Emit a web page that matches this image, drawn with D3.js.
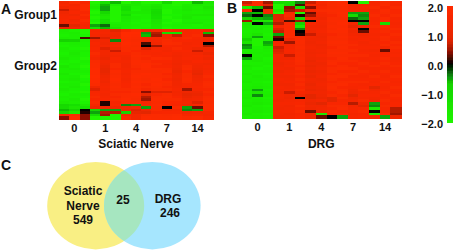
<!DOCTYPE html>
<html>
<head>
<meta charset="utf-8">
<script src="https://cdn.jsdelivr.net/npm/d3@7"></script>
<style>
  html, body { margin: 0; padding: 0; background: #fff; }
  text { font-family: "Liberation Sans", Arial, sans-serif; font-weight: bold; fill: #111; }
</style>
</head>
<body>
<svg id="chart"></svg>
<script>
const days = ["0", "1", "4", "7", "14"];
const reps = [0, 1, 2];
const legendTicks = [2, 1, 0, -1, -2];
const vennCounts = [549, 25, 246];

// log ratio per gene (rows) and sample (columns)
const sciatic = [
  [1.4,1.8,1.6,-2,-1.2,-.6,-2,-1.5,-2,-2,-.9,-2,-2,-.6,-1.5],
  [1.6,1.4,1.8,-1.8,-.6,-1.8,-1.4,-1.6,-1.8,-1.5,-1.9,-2,-1.7,-1.6,-1.7],
  [1.3,1.6,1.8,-1.6,-.5,-2,-1.2,-1.8,-1.6,-1.3,-1.9,-1.9,-1.6,-1.8,-1.4],
  [.7,1.4,1.8,-1.9,-.5,-2,-1.1,-1.9,-1.5,-1.1,-2,-1.8,-1.5,-1.7,-1.6],
  [1.2,1.6,1.6,-2,-.9,-2,-1.4,-1.6,-1.6,-1,-2,-1.8,-1.7,-1.8,-1.7],
  [1.4,1.3,1.8,-1.8,-1.3,-2,-1.1,-1.9,-1.8,-1.1,-1.9,-1.9,-1.6,-1.5,-1.5],
  [1.5,1.6,1.6,-2,-1.5,-2,-1.5,-1.7,-1.8,-1.2,-2,-1.8,-1.5,-1.8,-1.8],
  [1.6,1.3,1.8,-1.9,-1.2,-2,-1.6,-1.8,-1.9,-1.3,-1.9,-2,-1.7,-1.7,-1.7],
  [1.5,1.5,1.6,-2,-1,-1.8,-1.7,-1.9,-1.8,-1.4,-2,-1.9,-1.6,-1.5,-1.8],
  [.3,.9,1.4,-.5,-.3,-1.6,-1.7,-1.8,-1.9,-1.5,-1.9,-1.8,-1.8,-1.9,-1.7],
  [1,1.2,1.5,-1.2,-.6,-1.3,-1.8,-1.9,-1.8,-1.6,-2,-1.9,-1.9,-1.8,-1.8],
  [-1.7,-1.9,-2,1.5,1.4,.9,1.6,1.8,1.2,1.5,1.7,1.6,1.5,1.6,1.2],
  [-1.8,-1.7,-2,1.6,1.5,1.3,2,2,-.5,.6,-1,-1.2,1.5,1.6,-.6],
  [-1.9,-1.8,-1.9,1.5,1.3,1.2,2,1.9,-.6,.5,1.4,.7,1.6,1.7,.4],
  [-1.7,-1.8,.2,.5,.8,1.4,1.9,1.8,1.5,1.6,1.5,1.6,1.7,1.6,1.3],
  [-.7,-.8,-1.8,1.4,1.3,-.4,1.8,1.7,1.4,1.5,1.7,1.6,1.6,1.5,1.2],
  [-1.8,-1.7,-1.9,1.6,1.2,1.4,1.9,1.8,.2,1.3,1.8,1.7,1.4,1.5,0],
  [-1.9,-1.8,-1.9,1.5,1.4,1.6,1.8,1.7,0,.5,1.6,1.5,1.5,1.6,.6],
  [-1.7,-1.9,-2,1.6,.8,1.2,1.7,1.8,.8,1.4,1.5,1.7,1.5,1.2,1.2],
  [-1.8,-1.7,-1.8,1.5,1.3,.7,1.7,1.6,1.5,1.6,1.4,1.6,1.6,.7,1.4],
  [-1.9,-1.6,-1.9,1.7,1.3,1.5,1.6,1.7,1.6,1.5,1.6,1.4,1.5,1.4,1.1],
  [-1.8,-1.7,-1.9,1.6,1.2,1.4,1.4,1.8,1.7,1.6,1.5,1.3,1.5,1.6,1.4],
  [-1.6,-1.8,-2,1.4,1.1,1.6,1.3,1.7,1.6,1.8,1.7,1.4,1.6,1.5,1.2],
  [-1.8,-1.9,-1.8,1.7,1.3,1.5,1.4,1.8,1.7,1.6,1.6,1.3,1.4,1.6,1.5],
  [-1.9,-1.7,-1.9,1.8,1.2,1.7,1.3,1.8,1.9,1.7,1.5,1.2,1.5,1.4,1.3],
  [-1.5,-1.8,-2,1.8,1.1,1.7,1.3,1.7,1.9,1.6,1.6,1.3,1.7,1.3,1.5],
  [-1.7,-1.6,-1.9,1.9,1,1.6,1.4,1.6,1.8,1.8,1.7,1.2,1.8,1.2,1.4],
  [-1.8,-1.8,-1.8,1.9,1,1.8,1.5,1.7,1.7,1.7,1.8,1.1,1.6,1.1,1.5],
  [-1.6,-1.9,-1.9,1.9,1.1,1.7,1.4,1.8,1.9,1.8,1.6,1.2,1.7,1,1.6],
  [-1.8,-1.7,-2,2,1.2,1.8,1.5,1.9,1.8,1.8,1.7,1.3,1.7,1.2,1.7],
  [-1.7,-1.6,-1.9,1.9,1.3,1.9,1.4,1.8,1.7,1.9,1.6,1.2,1.8,1.3,1.6],
  [-1.9,-1.8,-1.8,1.9,1.2,1.8,1.5,1.9,1.8,1.8,1.8,1.3,1.7,1.4,1.7],
  [-1.7,-1.7,-2,1.8,1.4,1.7,1.6,1.8,1.6,1.9,1.7,1.3,1.5,1.5,1.8],
  [-1.8,-1.6,-1.9,1.2,1.5,1.8,1.6,1.9,1.7,1.8,1.6,1.4,1.4,1.6,1.7],
  [-1.6,-1.8,-1.9,.8,1.4,1.7,1.7,1.8,1.5,1.7,1.7,1.5,.5,1.5,1.6],
  [-1.8,-1.9,-2,1.5,1.5,1.6,1.6,1.7,.4,.8,.8,1.3,1.2,1.2,1.7],
  [-1.9,-1.7,-1.8,1.6,1.4,1.7,1.8,1.9,1,1.6,1.7,1.4,1,1.1,1.6],
  [-1.7,-1.8,-1.9,1.7,1.5,1.6,1.8,1.8,.6,1.7,1.8,1.6,1.1,1.3,1.7],
  [-1.8,-1.6,-2,1.6,1.6,1.7,1.9,1.7,.5,1.8,1.7,1.7,1.3,1.4,1.8],
  [-1.6,-1.7,-1.9,1.7,.1,1.5,1.8,1.8,1.5,1.7,1.6,1.6,1.4,.8,1.7],
  [-.9,-1.2,-1.5,1.5,.1,1.6,-.4,-.5,1.6,1.8,1.5,1.5,1.2,1.5,1.8],
  [-1,-1.4,-1.2,1.1,1.3,1.2,1.3,1.4,-.5,1.7,0,1.7,-.5,.3,1.8],
  [-.6,-.7,0,-.7,-.5,-.5,1.1,.8,1.2,1.7,1.3,1.5,-.4,-.5,1.7],
  [-.8,-1.3,.1,-.5,.6,.6,-.8,1,.9,1.5,1.6,1.6,1.2,1.3,1.5],
  [1.6,1.7,.4,-1,.5,-2,1.5,1.4,1.7,1.8,1.7,1.8,1.5,1.6,1.4],
  [.4,2,.4,-2,-2,-2,1.8,1.4,1.9,1.8,1.8,1.9,1.7,1.8,1.6]
];

const drg = [
  [.7,1.8,.5,-1,-1,-.4,.7,1.6,1.7,1.8,0,-2,1.5,1.7,1.6],
  [1.2,2,.8,-2,-1,.2,1.5,1.4,1.8,1.9,1.4,1.4,1.6,1.8,1.5],
  [-1.6,-.6,.3,-2,.4,-1.2,.4,1.6,1.7,1.8,1.5,1.6,1.7,1.6,1.7],
  [2,0,1.5,-1.5,.5,.7,1.5,1.7,1.8,1.8,1.6,1.5,1.5,1.8,1.6],
  [-.5,-.6,1.4,-2,1.7,-2,.3,1.5,1.7,1.9,-.5,-.5,1.6,1.7,1.6],
  [-.3,0,-.4,.8,1.8,.1,.5,1.4,1.6,1.8,-1,-.4,1.7,1.6,1.7],
  [-.7,-.6,-.5,.8,1.5,-1,1.4,1.2,1.7,1.7,-.3,-.5,1.6,1.8,1.5],
  [.5,-1.5,-1.5,.8,.2,.5,0,1.5,1.8,1.8,0,0,1.5,1.7,1.6],
  [-1.5,0,-.5,.6,1.7,-.7,1.5,1.4,1.7,1.9,1.3,-.5,1.6,-1,1.5],
  [-1.6,-1.7,-1.8,1.5,1.8,-1.5,1.3,1.3,1.8,1.8,1,1.2,1.7,1.8,1.6],
  [-1.7,-1.6,-1.9,.8,1.9,-.4,1.4,1.4,1.7,1.9,1.5,0,1.5,1.6,1.7],
  [-1.8,-1.7,-1.8,.7,1.8,0,1.2,1.5,1.8,1.8,1.2,.3,1.6,1.7,1.6],
  [-1.7,-1.4,-1.9,-.5,1.8,.1,.7,1.3,1.6,1.7,1.4,1.3,1.5,1.6,1.7],
  [-1.6,-.5,-1.8,.3,1.9,1.7,1.4,1.2,1.7,1.8,1.6,1.5,1.6,1.8,1.6],
  [-.8,-2,-1.8,.1,1.4,1.8,1.3,1.3,1.7,1.7,1.5,1.6,1.5,1.7,1.5],
  [-1.4,-2,-.5,1.4,.5,1.8,1.2,1.4,1.8,1.8,1.6,1.4,1.6,1.6,1.7],
  [-.4,-2,-.6,1.5,1.4,1.7,1.3,1.2,1.7,1.7,1.7,1.5,1.5,1.7,1.6],
  [-.5,-1.9,-1.6,.7,1.5,1.8,1.4,1.3,1.6,1.8,1.6,1.6,1.6,1.3,1.7],
  [-1.7,-1.8,-1.7,.8,1.6,1.7,1.3,1.4,1.7,1.7,1.7,1.5,1.4,.3,1.6],
  [-1.6,-1.7,-1.8,.9,1.5,1.8,1.2,1.3,1.8,1.8,1.6,1.6,1.6,1.5,1.5],
  [0,-1.8,-1.7,1.4,.7,1.7,1.3,1.5,1.7,1.7,1.7,1.7,1.5,1.6,1.6],
  [-.5,-1.7,-1.9,1.3,1.3,1.8,1.2,1.3,1.6,1.8,1.6,1.5,1.6,1.7,1.4],
  [-1.7,-1.6,-1.8,1.4,1.5,1.8,1.1,1.4,1.7,1.7,1.7,1.6,1.5,1.6,1.5],
  [-1.8,-1.8,-1.7,1.2,1.4,1.7,1.2,1.2,1.8,1.6,1.6,1.7,1.6,1.7,1.6],
  [-1.6,-1.7,-1.9,1.3,1.5,1.6,1.1,1.3,1.6,1.7,1.5,1.6,1.7,1.6,1.7],
  [-1.7,-1.9,-1.8,1.4,1.3,1.7,1.2,1.4,1.7,1.8,1.7,1.5,1.5,1.5,1.6],
  [-1.8,-1.7,-1.7,1.2,1.4,1.6,1.1,1.2,1.7,1.6,1.6,1.7,1.6,1.7,1.5],
  [-1.6,-1.8,-1.9,1.4,1.5,1.7,1.2,1.3,1.6,1.7,1.7,1.6,1.5,1.6,1.6],
  [-1.8,-1.6,-1.8,1.3,1.3,1.6,1.1,1.4,1.8,1.8,1.5,1.5,1.7,1.5,1.7],
  [-1.7,-1.7,-1.7,1.5,1.4,1.7,1.3,1.2,1.7,1.6,1.6,1.6,1.6,1.6,1.6],
  [-1.6,-1.8,-1.9,1.4,1.5,1.6,1.2,1.3,1.6,1.7,1.7,1.7,1.5,1.7,1.5],
  [-1.8,-1.7,-1.8,1.3,1.3,1.7,1.1,1.4,1.7,1.8,1.6,1.5,1.6,1.6,1.6],
  [-1.7,-1.6,-1.7,1.5,1.4,1.6,1.2,1.3,1.8,1.6,1.5,1.6,.9,1.5,1.7],
  [-1.6,-.5,-1.9,1.4,1.5,1.7,1.1,1.2,1.7,1.7,1.3,1.7,1.3,1.6,1.6],
  [-1.8,-1.4,-1.8,1.3,.7,1.5,1.3,1.3,1.6,1.8,1.2,1.5,1.5,1.7,1.5],
  [-1.7,-.4,-1.7,1.5,1.3,1.2,.9,1.2,1.7,1.6,.9,1.6,1.6,1.5,1.7],
  [-1.6,-1.8,-1.9,1.4,1.2,0,.9,1.1,.9,1.7,1.3,1.5,1.4,1.6,1.6],
  [-1.8,-1.7,-1.8,1.3,1.4,1.5,1.2,1.4,.9,1.5,1.4,1.7,1.3,1.7,1.5],
  [-1.7,-1.6,-1.7,1.5,1.5,1.6,1.1,.9,1.6,1.6,.6,1.2,-.5,1.6,1.6],
  [-1.6,-1.8,-1.9,1.4,1.3,1.7,1.3,1.3,1.7,1.7,1.4,.9,-.4,1.7,1.6],
  [-1.8,-1.7,-1.8,1.3,1.4,1.6,1.2,1.4,1.6,1.8,1.5,1.6,-1.5,1.6,.6],
  [-1.7,-1.6,-1.7,1.5,1.5,1.7,.3,1.2,1.7,1.6,1.6,1.7,0,1.5,.6],
  [-1.6,-1.8,-1.9,1.4,1.3,1.5,1.3,-1.5,1.6,1.7,1.4,1.5,-1.5,1.7,.5],
  [-1.8,-1.7,-1.8,1.3,1.4,1.6,1.2,.3,0,-.5,1.5,1.6,1.3,-.5,1.2]
];

const width = 454;
const height = 250;

const svg = d3.select("#chart").attr("width", width).attr("height", height)
  .style("display", "block");

const soft = svg.append("defs").append("filter").attr("id", "soft");
soft.append("feGaussianBlur").attr("stdDeviation", 0.45);

const color = d3.scaleLinear()
  .domain([-2, -.7, -.4, 0, .4, .8, 1.2, 2])
  .range(["#20f400", "#14d400", "#0a8a0a", "#000000", "#8c1000", "#e02400", "#f02600", "#ff2a00"])
  .clamp(true);

function heatmap(rows, x0, x1, y0, y1, name) {
  const x = d3.scaleBand().domain(days).range([x0, x1]);
  const rep = d3.scaleBand().domain(reps).range([0, x.bandwidth()]);
  const y = d3.scaleBand().domain(d3.range(rows.length)).range([y0, y1]);

  const g = svg.append("g").attr("filter", "url(#soft)").attr("shape-rendering", "crispEdges");
  rows.forEach((row, i) => {
    g.append("g").selectAll("rect")
      .data(row)
      .join("rect")
      .attr("x", (d, j) => x(days[Math.floor(j / 3)]) + rep(j % 3))
      .attr("y", y(i))
      .attr("width", rep.bandwidth() + .5)
      .attr("height", y.bandwidth() + .5)
      .attr("fill", d => color(d));
  });

  const axis = svg.append("g")
    .attr("transform", `translate(0,${y1 + 1})`)
    .call(d3.axisBottom(x).tickSize(0).tickPadding(4));
  axis.select(".domain").remove();
  axis.selectAll("text")
    .style("font-size", "11px")
    .style("font-family", "'Liberation Sans', Arial, sans-serif");

  svg.append("text")
    .attr("x", (x0 + x1) / 2)
    .attr("y", 147.5)
    .attr("text-anchor", "middle")
    .style("font-size", "12px")
    .text(name);
}

heatmap(sciatic, 59, 213, 1, 119, "Sciatic Nerve");
heatmap(drg, 241.5, 401, 1, 118, "DRG");

// colour key
const keyY = d3.scaleLinear().domain([2, -2]).range([6, 122]);
const keySteps = d3.range(2, -2, -.05);
svg.append("g").attr("filter", "url(#soft)").attr("shape-rendering", "crispEdges").selectAll("rect")
  .data(keySteps)
  .join("rect")
  .attr("x", 447)
  .attr("y", d => keyY(d))
  .attr("width", 6)
  .attr("height", keyY(0) - keyY(.05) + .5)
  .attr("fill", d => color(d - .025));

const keyAxis = svg.append("g")
  .attr("transform", "translate(447,2)")
  .call(d3.axisLeft(keyY).tickValues(legendTicks).tickFormat(d3.format(".1f")).tickSize(0).tickPadding(4));
keyAxis.select(".domain").remove();
keyAxis.selectAll("text")
  .style("font-size", "11px")
  .style("font-family", "'Liberation Sans', Arial, sans-serif");

// panel letters and group names
const labels = [["A", 1, 14, 14], ["B", 227, 13, 14], ["C", 1, 170, 14]];
svg.append("g").selectAll("text")
  .data(labels)
  .join("text")
  .attr("x", d => d[1])
  .attr("y", d => d[2])
  .style("font-size", d => d[3] + "px")
  .text(d => d[0]);

const groups = [["Group1", 19], ["Group2", 70]];
svg.append("g").selectAll("text")
  .data(groups)
  .join("text")
  .attr("x", 57)
  .attr("y", d => d[1])
  .attr("text-anchor", "end")
  .style("font-size", "12px")
  .text(d => d[0]);

// venn
const left = { cx: 95.7, cy: 205.7, rx: 48.5, ry: 43.7 };
const right = { cx: 152.3, cy: 205.7, rx: 48.3, ry: 43.7 };
const ell = (sel, e) => sel.attr("cx", e.cx).attr("cy", e.cy).attr("rx", e.rx).attr("ry", e.ry);

svg.select("defs").append("clipPath").attr("id", "leftClip").append("ellipse").call(ell, left);
svg.append("ellipse").call(ell, left).attr("fill", "#f9ef84");
svg.append("ellipse").call(ell, right).attr("fill", "#a6e6fe");
svg.append("ellipse").call(ell, right).attr("fill", "#a6e6c0").attr("clip-path", "url(#leftClip)");

const vennText = [
  ["Sciatic", 83, 195], ["Nerve", 83, 210], [vennCounts[0], 83, 224],
  [vennCounts[1], 123, 204],
  ["DRG", 168, 203], [vennCounts[2], 170, 217]
];
svg.append("g").selectAll("text")
  .data(vennText)
  .join("text")
  .attr("x", d => d[1])
  .attr("y", d => d[2])
  .attr("text-anchor", "middle")
  .style("font-size", "12px")
  .text(d => d[0]);
</script>
</body>
</html>
